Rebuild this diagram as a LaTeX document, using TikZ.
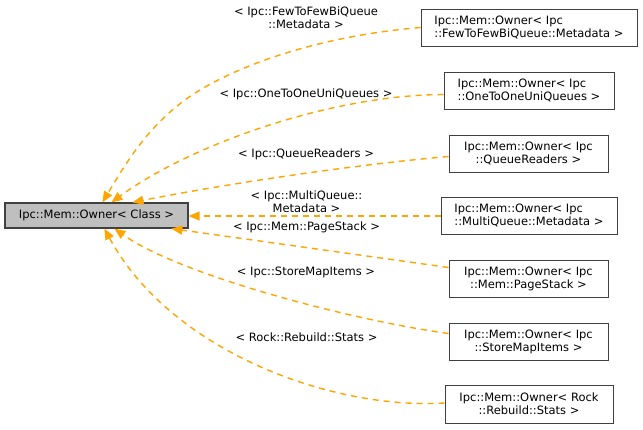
\documentclass[tikz,border=0pt]{standalone}
\usepackage{fontspec}
\setmainfont{DejaVu Sans}
\usetikzlibrary{calc,arrows.meta}
\definecolor{boxline}{RGB}{64,64,64}
\definecolor{mainfill}{RGB}{191,191,191}
\definecolor{edgeor}{RGB}{255,165,0}
\begin{document}
\begin{tikzpicture}[x=1pt,y=-1pt,
  every node/.style={font=\fontsize{11.5}{13}\selectfont, inner sep=0pt},
  cls/.style={draw=boxline, line width=1pt, fill=white, minimum height=37pt},
  mainbox/.style={draw=boxline, line width=1.2pt, fill=mainfill, minimum width=183pt, minimum height=25pt},
  lbl/.style={align=center},
  inh/.style={draw=edgeor, line width=1.4pt, dash pattern=on 6pt off 5pt,
    -{Triangle[length=11pt,width=9pt]}}
]
\useasboundingbox (0,0) rectangle (643,429);
\fill[white] (0,0) rectangle (643,429);

\node[mainbox] (main) at (96.5,215.5) {Ipc::Mem::Owner< Class >};

\node[cls, minimum width=216pt, align=left] (b1) at (529,27.5) {Ipc::Mem::Owner< Ipc\\::FewToFewBiQueue::Metadata >};
\node[cls, minimum width=170pt, align=left] (b2) at (529,90.5) {Ipc::Mem::Owner< Ipc\\::OneToOneUniQueues >};
\node[cls, minimum width=159pt, align=center] (b3) at (528.5,153.5) {Ipc::Mem::Owner< Ipc\\::QueueReaders >};
\node[cls, minimum width=176pt, align=left] (b4) at (529,215.5) {Ipc::Mem::Owner< Ipc\\::MultiQueue::Metadata >};
\node[cls, minimum width=159pt, align=center] (b5) at (528.5,278.5) {Ipc::Mem::Owner< Ipc\\::Mem::PageStack >};
\node[cls, minimum width=159pt, align=center] (b6) at (528.5,341.5) {Ipc::Mem::Owner< Ipc\\::StoreMapItems >};
\node[cls, minimum width=168pt, minimum height=38pt, align=center] (b7) at (529,404) {Ipc::Mem::Owner< Rock\\::Rebuild::Stats >};

\node[lbl] (l1) at (306,17.5) {< Ipc::FewToFewBiQueue\\::Metadata >};
\node[lbl] (l2) at (306,94) {< Ipc::OneToOneUniQueues >};
\node[lbl] (l3) at (306,154) {< Ipc::QueueReaders >};
\node[lbl] (l4) at (306.5,201.5) {< Ipc::MultiQueue::\\Metadata >};
\node[lbl] (l5) at (306.5,227) {< Ipc::Mem::PageStack >};
\node[lbl] (l6) at (306,272) {< Ipc::StoreMapItems >};
\node[lbl] (l7) at (306.5,337) {< Rock::Rebuild::Stats >};

\draw[inh] (b1.west) .. controls (330,35) and (250,60) .. (200,90)
  .. controls (150,120) and (125,165) .. ($(main.north west)+(98,0)$);
\draw[inh] ($(b2.west)+(0,4)$) .. controls (330,95) and (190,145) .. ($(main.north west)+(107,0)$);
\draw[inh] ($(b3.west)+(0,3)$) .. controls (350,165) and (220,185) .. ($(main.north west)+(128,0)$);
\draw[inh] ($(b4.west)+(0,0.5)$) -- ($(main.east)+(0,0.5)$);
\draw[inh] ($(b5.west)+(0,-11)$) -- ($(main.south west)+(167,0)$);
\draw[inh] ($(b6.west)+(0,-8)$) .. controls (350,320) and (180,275) .. ($(main.south west)+(110,0)$);
\draw[inh] ($(b7.west)+(0,-1)$) .. controls (330,410) and (170,350) .. ($(main.south west)+(100,0)$);
\end{tikzpicture}
\end{document}
